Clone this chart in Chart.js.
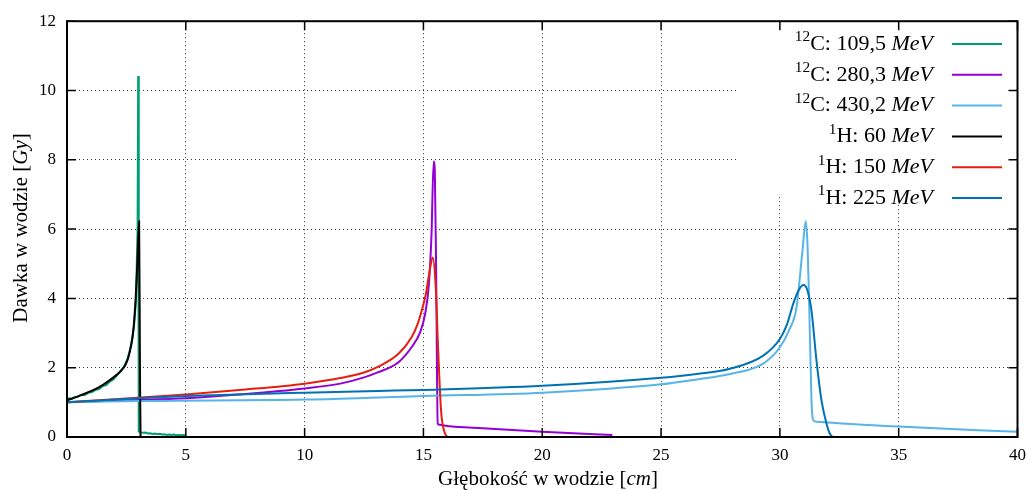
<!DOCTYPE html>
<html>
<head>
<meta charset="utf-8">
<script src="https://cdn.jsdelivr.net/npm/chart.js@4.4.1/dist/chart.umd.min.js"></script>
<style>
  html, body { margin: 0; padding: 0; background: #fff; }
  #wrap { width: 1034px; height: 490px; }
</style>
</head>
<body>
<div id="wrap"><canvas id="graph"></canvas></div>
<script>
const serif = '"Liberation Serif", "Times New Roman", serif'

const green =     '#009e73'
const purple =    '#9400d3'
const lightBlue = '#56b4e9'
const black =     '#000000'
const red =       '#e51e10'
const blue =      '#0072b2'

// depth [cm] / dose [Gy]
const c109Depth = [0, 0.1, 0.2, 0.3, 0.45, 0.6, 0.75, 0.9, 1.05, 1.2, 1.35, 1.5, 1.65, 1.8, 1.95, 2.1, 2.25, 2.4, 2.55, 2.7, 2.82, 2.9, 2.97, 2.995, 3.02, 3.1, 3.2, 3.3, 3.4, 3.5, 3.6, 3.7, 3.8, 3.9, 4.0, 4.1, 4.2, 4.3, 4.4, 4.5, 4.6, 4.7, 4.8, 4.9, 5.0]
const c109Dose =  [1.08, 1.12, 1.1, 1.15, 1.16, 1.22, 1.21, 1.28, 1.3, 1.36, 1.38, 1.47, 1.5, 1.6, 1.66, 1.78, 1.9, 2.03, 2.26, 2.66, 3.2, 3.9, 6.0, 10.42, 0.16, 0.14, 0.12, 0.13, 0.1, 0.11, 0.09, 0.1, 0.08, 0.09, 0.07, 0.08, 0.06, 0.07, 0.06, 0.07, 0.05, 0.06, 0.05, 0.06, 0.05]

const c280Depth = [0, 2.5, 5, 7.5, 10, 11.5, 12.5, 13.1, 13.95, 14.5, 14.86, 15.07, 15.23, 15.34, 15.43, 15.48, 15.54, 15.6, 15.69, 16, 17.5, 20, 22.95]
const c280Dose =  [1.0, 1.06, 1.12, 1.24, 1.40, 1.54, 1.72, 1.87, 2.16, 2.59, 3.02, 3.55, 4.41, 5.85, 7.95, 7.66, 4.4, 0.39, 0.35, 0.32, 0.25, 0.15, 0.06]

const c430Depth = [0, 3, 10, 13.1, 15, 20, 25, 26.5, 27.9, 29.3, 30, 30.4, 30.7, 30.95, 31.09, 31.16, 31.23, 31.33, 31.4, 31.54, 35, 40]
const c430Dose =  [1.0, 1.04, 1.08, 1.14, 1.18, 1.28, 1.52, 1.66, 1.82, 2.12, 2.59, 3.1, 3.74, 5.37, 6.23, 5.6, 3.93, 1.06, 0.49, 0.44, 0.30, 0.15]

const h60Depth = [0, 0.3, 0.6, 1.1, 1.5, 1.8, 2.1, 2.3, 2.45, 2.57, 2.68, 2.78, 2.89, 2.96, 3.035, 3.07, 3.095, 3.12, 3.9]
const h60Dose =  [1.06, 1.13, 1.21, 1.35, 1.5, 1.64, 1.8, 1.93, 2.07, 2.27, 2.58, 3.0, 4.0, 5.0, 6.23, 2.0, 0.05, 0, 0]

const h150Depth = [0, 2.5, 5, 7.5, 10, 11.5, 12.5, 13.1, 13.95, 14.5, 14.75, 14.95, 15.1, 15.25, 15.39, 15.51, 15.62, 15.74, 15.86, 16.04, 16.8]
const h150Dose =  [1.0, 1.11, 1.23, 1.37, 1.54, 1.7, 1.86, 2.03, 2.40, 2.88, 3.25, 3.7, 4.12, 4.75, 5.18, 4.41, 2.5, 0.78, 0.2, 0, 0]

const h225Depth = [0, 3, 5, 10, 13.1, 15, 20, 25, 26.5, 27.9, 29.3, 30.0, 30.3, 30.56, 30.8, 31.0, 31.15, 31.33, 31.54, 31.75, 31.96, 32.1, 32.24, 33.6]
const h225Dose =  [1.0, 1.12, 1.18, 1.28, 1.33, 1.36, 1.48, 1.71, 1.82, 1.97, 2.35, 2.83, 3.25, 3.84, 4.25, 4.39, 4.25, 3.65, 2.21, 1.06, 0.39, 0.1, 0, 0]

const xTicks = [0, 5, 10, 15, 20, 25, 30, 35, 40]
const yTicks = [0, 2, 4, 6, 8, 10, 12]

// legend text pieces: superscript nucleon number, particle + energy, unit
const keyNuc =    ['12', '12', '12', '1', '1', '1']
const keyText =   ['C: 109,5 ', 'C: 280,3 ', 'C: 430,2 ', 'H: 60 ', 'H: 150 ', 'H: 225 ']
const keyColors = [green, purple, lightBlue, black, red, blue]

const series = [
    [c109Depth, c109Dose, false],
    [c280Depth, c280Dose, true],
    [c430Depth, c430Dose, true],
    [h60Depth, h60Dose, true],
    [h150Depth, h150Dose, true],
    [h225Depth, h225Dose, true]
]

function toPoints(xs, ys) {
    return xs.map((x, i) => ({x: x, y: ys[i]}))
}

// draws "12C: 109,5 MeV" style text made of several font pieces
function drawRich(ctx, parts, x, y, size, align) {
    let total = 0
    const segs = parts.map(p => {
        const fs = p.sup ? size * 0.7 : size
        const font = (p.it ? 'italic ' : '') + fs + 'px ' + serif
        ctx.font = font
        const w = ctx.measureText(p.t).width
        total += w
        return {p: p, font: font, w: w}
    })
    let cx = align === 'right' ? x - total : (align === 'center' ? x - total / 2 : x)
    ctx.textAlign = 'left'
    ctx.textBaseline = 'middle'
    ctx.fillStyle = '#000'
    segs.forEach(s => {
        ctx.font = s.font
        ctx.fillText(s.p.t, cx, s.p.sup ? y - size * 0.3 : y)
        cx += s.w
    })
}

const framePlugin = {
    id: 'gnuplotFrame',
    afterDatasetsDraw(chart) {
        const ctx = chart.ctx
        const a = chart.chartArea
        const xs = chart.scales.x, ys = chart.scales.y
        ctx.save()
        // opaque key
        ctx.fillStyle = '#fff'
        ctx.fillRect(737, a.top + 1, a.right - 737, 193 - a.top)
        keyText.forEach((t, i) => {
            const yy = 44 + i * 30.8
            drawRich(ctx, [{t: keyNuc[i], sup: true}, {t: t}, {t: 'MeV', it: true}], 933, yy, 22, 'right')
            ctx.strokeStyle = keyColors[i]
            ctx.lineWidth = 2
            ctx.beginPath()
            ctx.moveTo(952, yy)
            ctx.lineTo(1002, yy)
            ctx.stroke()
        })
        // border and inward ticks on all four sides
        ctx.strokeStyle = '#000'
        ctx.lineWidth = 1.5
        ctx.beginPath()
        xTicks.forEach(v => {
            const px = xs.getPixelForValue(v)
            ctx.moveTo(px, a.bottom); ctx.lineTo(px, a.bottom - 9)
            ctx.moveTo(px, a.top); ctx.lineTo(px, a.top + 9)
        })
        yTicks.forEach(v => {
            const py = ys.getPixelForValue(v)
            ctx.moveTo(a.left, py); ctx.lineTo(a.left + 9, py)
            ctx.moveTo(a.right, py); ctx.lineTo(a.right - 9, py)
        })
        ctx.stroke()
        ctx.lineWidth = 2
        ctx.strokeRect(a.left, a.top, a.right - a.left, a.bottom - a.top)
        // axis titles
        drawRich(ctx, [{t: 'Głębokość w wodzie ['}, {t: 'cm', it: true}, {t: ']'}], 548, 479, 21, 'center')
        ctx.translate(21, 228)
        ctx.rotate(-Math.PI / 2)
        drawRich(ctx, [{t: 'Dawka w wodzie ['}, {t: 'Gy', it: true}, {t: ']'}], 0, 0, 21, 'center')
        ctx.restore()
    }
}

const ctx = document.getElementById('graph')
const myChart = new Chart(ctx, {
    type: 'line',
    data: {
        datasets: series.map((s, i) => ({
            label: keyNuc[i] + keyText[i] + 'MeV',
            data: toPoints(s[0], s[1]),
            borderColor: keyColors[i],
            borderWidth: 2,
            pointRadius: 0,
            fill: false,
            cubicInterpolationMode: s[2] ? 'monotone' : 'default',
            tension: 0,
            // later series drawn on top, like gnuplot
            order: series.length - i
        }))
    },
    options: {
        responsive: true,
        maintainAspectRatio: false,
        devicePixelRatio: 1,
        animation: false,
        layout: {
            padding: {left: 0, right: 12, top: 19, bottom: 0}
        },
        plugins: {
            legend: {display: false},
            tooltip: {enabled: false}
        },
        scales: {
            x: {
                type: 'linear',
                min: 0,
                max: 40,
                afterFit: s => { s.height = 53 },
                afterBuildTicks: s => { s.ticks = xTicks.map(v => ({value: v})) },
                ticks: {
                    color: '#000',
                    padding: 8,
                    font: {family: serif, size: 17}
                },
                grid: {
                    color: 'rgba(0,0,0,0.8)',
                    lineWidth: 1,
                    drawTicks: false
                },
                border: {display: false, dash: [1, 3]}
            },
            y: {
                min: 0,
                max: 12,
                afterFit: s => { s.width = 67 },
                afterBuildTicks: s => { s.ticks = yTicks.map(v => ({value: v})) },
                ticks: {
                    color: '#000',
                    padding: 11,
                    font: {family: serif, size: 17}
                },
                grid: {
                    color: 'rgba(0,0,0,0.8)',
                    lineWidth: 1,
                    drawTicks: false
                },
                border: {display: false, dash: [1, 3]}
            }
        }
    },
    plugins: [framePlugin]
})
</script>
</body>
</html>
